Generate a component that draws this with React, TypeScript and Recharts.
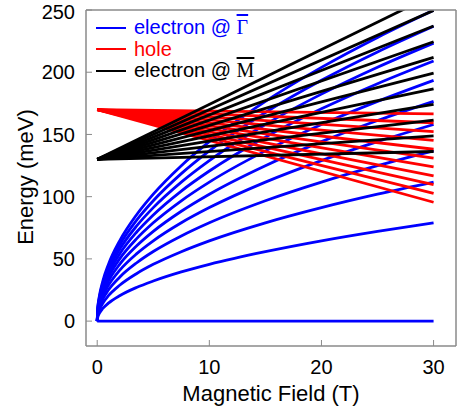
import React from 'react';
import { LineChart, Line, XAxis, YAxis, Legend, Label } from 'recharts';

// Magnetic field sample points (T) for the electron @ Gamma Landau levels
const FIELD_B = [0, 0.05, 0.2, 0.5, 1, 2, 3.5, 5, 7.5, 10, 15, 20, 25, 30];

// electron @ Gamma levels, energy (meV) at each FIELD_B point
const GAMMA_N0 = [0, 0, 0, 0, 0, 0, 0, 0, 0, 0, 0, 0, 0, 0];
const GAMMA_N1 = [0, 3.2, 6.4, 10.2, 14.4, 20.4, 27.0, 32.2, 39.5, 45.6, 55.8, 64.5, 72.1, 79.0];
const GAMMA_N2 = [0, 4.6, 9.1, 14.4, 20.4, 28.8, 38.1, 45.6, 55.8, 64.5, 79.0, 91.2, 102.0, 111.7];
const GAMMA_N3 = [0, 5.6, 11.2, 17.7, 25.0, 35.3, 46.7, 55.9, 68.4, 79.0, 96.7, 111.7, 124.9, 136.8];
const GAMMA_N4 = [0, 6.4, 12.9, 20.4, 28.8, 40.8, 54.0, 64.5, 79.0, 91.2, 111.7, 129.0, 144.2, 158.0];
const GAMMA_N5 = [0, 7.2, 14.4, 22.8, 32.2, 45.6, 60.3, 72.1, 88.3, 102.0, 124.9, 144.2, 161.2, 176.6];
const GAMMA_N6 = [0, 7.9, 15.8, 25.0, 35.3, 50.0, 66.1, 79.0, 96.7, 111.7, 136.8, 158.0, 176.6, 193.5];
const GAMMA_N7 = [0, 8.5, 17.1, 27.0, 38.2, 54.0, 71.4, 85.3, 104.5, 120.6, 147.8, 170.6, 190.8, 209.0];
const GAMMA_N8 = [0, 9.1, 18.2, 28.8, 40.8, 57.7, 76.3, 91.2, 111.7, 129.0, 158.0, 182.4, 204.0, 223.4];
const GAMMA_N9 = [0, 9.7, 19.3, 30.6, 43.3, 61.2, 80.9, 96.7, 118.5, 136.8, 167.6, 193.5, 216.3, 236.9];
const GAMMA_N10 = [0, 10.2, 20.4, 32.2, 45.6, 64.5, 85.3, 102.0, 124.9, 144.2, 176.6, 203.9, 228.0, 249.8];
const GAMMA_LEVELS = [GAMMA_N0, GAMMA_N1, GAMMA_N2, GAMMA_N3, GAMMA_N4, GAMMA_N5, GAMMA_N6, GAMMA_N7, GAMMA_N8, GAMMA_N9, GAMMA_N10];

// straight levels: field end points, start energy and end energies (meV)
const LINE_B = [0, 30];
const HOLE_START = 170;
const HOLE_END = [166.5, 159.4, 152.3, 145.2, 138.1, 131.0, 123.9, 116.8, 109.7, 102.6, 95.5];
const M_START = 130;
const M_END = [136.3, 148.9, 161.5, 174.1, 186.7, 199.3, 211.9, 224.5, 237.1, 249.7, 262.3];

const X_TICKS = [0, 10, 20, 30];
const Y_TICKS = [0, 50, 100, 150, 200, 250];

const LEGEND_ITEMS = [
  { label: 'electron @ ', sym: 'Γ', color: '#0000ff' },
  { label: 'hole', sym: '', color: '#ff0000' },
  { label: 'electron @ ', sym: 'M', color: '#000000' },
];

const FONT = '"Liberation Sans", Arial, sans-serif';
const FRAME = '#8a8a8a';
const LW = 2.8;

const gammaSeries = GAMMA_LEVELS.map((vals) => FIELD_B.map((b, i) => ({ b, e: vals[i] })));
const holeSeries = HOLE_END.map((end) => [
  { b: LINE_B[0], e: HOLE_START },
  { b: LINE_B[1], e: end },
]);
const mSeries = M_END.map((end) => [
  { b: LINE_B[0], e: M_START },
  { b: LINE_B[1], e: end },
]);

const renderLegend = () => (
  <div style={{ fontFamily: FONT, fontSize: 20 }}>
    {LEGEND_ITEMS.map((item) => (
      <div
        key={item.label + item.sym}
        style={{ display: 'flex', alignItems: 'center', height: 21.5, whiteSpace: 'nowrap' }}
      >
        <span
          style={{
            display: 'inline-block',
            width: 30,
            height: 0,
            borderTop: `2.5px solid ${item.color}`,
            marginRight: 8,
          }}
        />
        <span style={{ color: item.color, lineHeight: '21.5px', whiteSpace: 'pre' }}>
          {item.label}
          {item.sym ? (
            <span
              style={{
                fontFamily: '"Liberation Serif", "Times New Roman", serif',
                fontSize: 20,
                textDecoration: 'overline',
              }}
            >
              {item.sym}
            </span>
          ) : null}
        </span>
      </div>
    ))}
  </div>
);

const XTitle = (props: any) => {
  const vb = props.viewBox || { x: 86, y: 346, width: 370, height: 68 };
  return (
    <text x={vb.x + vb.width / 2} y={vb.y + 55} textAnchor="middle" fontFamily={FONT} fontSize={22} fill="#000">
      Magnetic Field (T)
    </text>
  );
};

const YTitle = (props: any) => {
  const vb = props.viewBox || { x: 0, y: 10, width: 86, height: 336 };
  const cx = vb.x + 33;
  const cy = vb.y + vb.height / 2 - 1;
  return (
    <text x={cx} y={cy} transform={`rotate(-90 ${cx} ${cy})`} textAnchor="middle" fontFamily={FONT} fontSize={22} fill="#000">
      Energy (meV)
    </text>
  );
};

export default function App() {
  return (
    <div style={{ position: 'absolute', left: 0, top: 0, width: 460, height: 414, background: '#fff' }}>
      <LineChart width={460} height={414} margin={{ top: 0, right: 0, bottom: 0, left: 0 }}>
        <XAxis
          xAxisId="bottom"
          type="number"
          dataKey="b"
          domain={[-1, 32]}
          ticks={X_TICKS}
          allowDataOverflow
          height={68}
          tickSize={-6}
          tickMargin={20}
          axisLine={{ stroke: FRAME, strokeWidth: 1.5 }}
          tickLine={{ stroke: FRAME }}
          tick={{ fill: '#000', fontSize: 20, fontFamily: FONT }}
        >
          <Label content={<XTitle />} />
        </XAxis>
        <XAxis
          xAxisId="top"
          orientation="top"
          type="number"
          dataKey="b"
          domain={[-1, 32]}
          ticks={X_TICKS}
          allowDataOverflow
          height={10}
          tickSize={-6}
          axisLine={{ stroke: FRAME, strokeWidth: 1.5 }}
          tickLine={{ stroke: FRAME }}
          tick={false}
        />
        <YAxis
          yAxisId="left"
          type="number"
          domain={[-20, 250]}
          ticks={Y_TICKS}
          allowDataOverflow
          width={86}
          tickSize={-6}
          tickMargin={17}
          axisLine={{ stroke: FRAME, strokeWidth: 1.5 }}
          tickLine={{ stroke: FRAME }}
          tick={{ fill: '#000', fontSize: 20, fontFamily: FONT }}
        >
          <Label content={<YTitle />} />
        </YAxis>
        <YAxis
          yAxisId="right"
          orientation="right"
          type="number"
          domain={[-20, 250]}
          ticks={Y_TICKS}
          allowDataOverflow
          width={4}
          tickSize={-6}
          axisLine={{ stroke: FRAME, strokeWidth: 1.5 }}
          tickLine={{ stroke: FRAME }}
          tick={false}
        />
        <Legend
          layout="vertical"
          align="center"
          verticalAlign="middle"
          content={renderLegend}
          wrapperStyle={{ left: 96, top: 17, width: 'auto', height: 'auto' }}
        />
        {gammaSeries.map((d, i) => (
          <Line
            key={`g${i}`}
            name={`gamma${i}`}
            data={d}
            dataKey="e"
            xAxisId="bottom"
            yAxisId="left"
            type="monotone"
            stroke="#0000ff"
            strokeWidth={LW}
            dot={false}
            activeDot={false}
            legendType="none"
            isAnimationActive={false}
          />
        ))}
        {holeSeries.map((d, i) => (
          <Line
            key={`h${i}`}
            name={`hole${i}`}
            data={d}
            dataKey="e"
            xAxisId="bottom"
            yAxisId="left"
            type="linear"
            stroke="#ff0000"
            strokeWidth={LW}
            dot={false}
            activeDot={false}
            legendType="none"
            isAnimationActive={false}
          />
        ))}
        {mSeries.map((d, i) => (
          <Line
            key={`m${i}`}
            name={`m${i}`}
            data={d}
            dataKey="e"
            xAxisId="bottom"
            yAxisId="left"
            type="linear"
            stroke="#000000"
            strokeWidth={LW}
            dot={false}
            activeDot={false}
            legendType="none"
            isAnimationActive={false}
          />
        ))}
      </LineChart>
    </div>
  );
}
